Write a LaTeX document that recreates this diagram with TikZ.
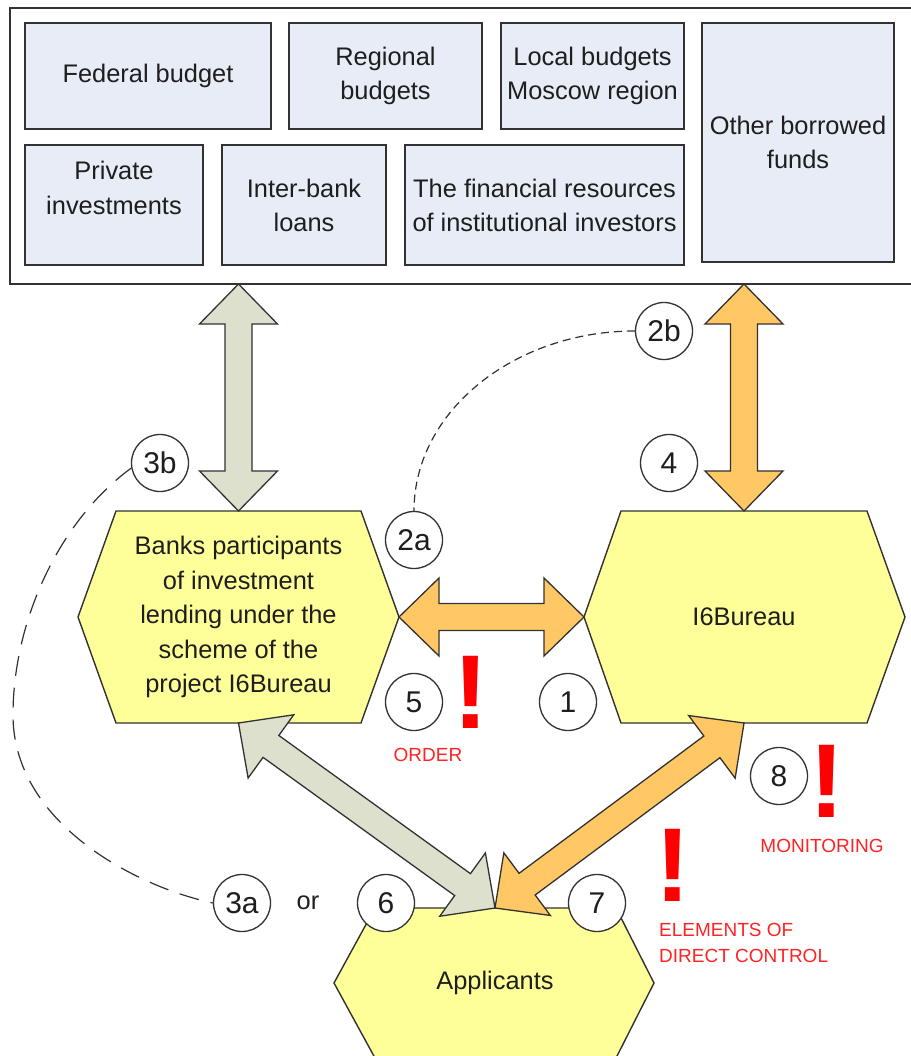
\documentclass[tikz,border=0pt]{standalone}
\usepackage{fontspec}
\setmainfont{Liberation Sans}
\usetikzlibrary{calc}
\definecolor{boxfill}{RGB}{232,236,246}
\definecolor{hexfill}{RGB}{255,255,153}
\definecolor{grayarrow}{RGB}{221,224,204}
\definecolor{orangearrow}{RGB}{255,200,100}
\definecolor{edgecol}{RGB}{50,50,50}
\definecolor{txtcol}{RGB}{30,30,30}
\definecolor{redlbl}{RGB}{255,35,35}
\newcommand\dblarrow[4]{%
  \coordinate (#4ha) at ($(#1)!40pt!(#2)$);
  \coordinate (#4hb) at ($(#2)!40pt!(#1)$);
  \draw[#3] (#1) -- ($(#4ha)!39pt!90:(#2)$) -- ($(#4ha)!13.5pt!90:(#2)$)
    -- ($(#4hb)!13.5pt!-90:(#1)$) -- ($(#4hb)!39pt!-90:(#1)$) -- (#2)
    -- ($(#4hb)!39pt!90:(#1)$) -- ($(#4hb)!13.5pt!90:(#1)$)
    -- ($(#4ha)!13.5pt!-90:(#2)$) -- ($(#4ha)!39pt!-90:(#2)$) -- cycle;}
\begin{document}
\begin{tikzpicture}[x=1pt,y=-1pt,
  srcbox/.style={draw=edgecol, line width=1.6pt, fill=boxfill, inner sep=0pt, outer sep=0pt,
    font=\fontsize{25.4}{34}\selectfont, text=txtcol, align=center},
  plaintext/.style={font=\fontsize{25.4}{34.5}\selectfont, text=txtcol, align=center, inner sep=0pt},
  hexa/.style={draw=edgecol, line width=1.4pt, fill=hexfill, line join=miter},
  numcircle/.style={circle, draw=edgecol, fill=white, line width=1.3pt, minimum size=57pt,
    inner sep=0pt, font=\fontsize{30}{30}\selectfont, text=txtcol},
  redtext/.style={text=redlbl, font=\fontsize{19}{26}\selectfont, inner sep=0pt},
  bang/.style={text=red, font=\fontsize{105}{105}\selectfont\bfseries, inner sep=0pt},
  grayarr/.style={draw=edgecol, line width=1.3pt, fill=grayarrow, line join=miter},
  orangearr/.style={draw=edgecol, line width=1.3pt, fill=orangearrow, line join=miter},
  shortdash/.style={draw=edgecol, line width=1.2pt, dash pattern=on 8pt off 5pt},
  longdash/.style={draw=edgecol, line width=1.2pt, dash pattern=on 20pt off 12pt}]
\useasboundingbox (0,0) rectangle (910,1056);
\fill[white] (0,0) rectangle (910,1056);

% sources frame
\node[draw=edgecol, line width=2pt, fill=white, minimum width=910pt, minimum height=276pt,
  anchor=north west, inner sep=0pt, outer sep=0pt] (sources) at (10,8) {};

\node[srcbox, minimum width=246pt, minimum height=106pt] (fed) at (148,76) {Federal budget};
\node[srcbox, minimum width=193pt, minimum height=106pt] (reg) at (385.5,76) {Regional\\budgets};
\node[srcbox, minimum width=183pt, minimum height=106pt] (loc) at (592.5,76) {Local budgets\\Moscow region};
\node[srcbox, minimum width=192pt, minimum height=239pt] (oth) at (798,142.5) {Other borrowed\\funds};
\node[srcbox, minimum width=178pt, minimum height=120pt] (priv) at (114,205) {};
\node[plaintext] (privtxt) at (114,188) {Private\\investments};
\node[srcbox, minimum width=164pt, minimum height=120pt] (ibl) at (304,205) {Inter-bank\\loans};
\node[srcbox, minimum width=279pt, minimum height=120pt] (fin) at (544.5,205) {The financial resources\\of institutional investors};

% hexagon anchor points
\coordinate (banksN) at (238.5,511);
\coordinate (banksS) at (238.5,723);
\coordinate (banksE) at (399,617);
\coordinate (i6N) at (744,511);
\coordinate (i6S) at (744,723);
\coordinate (i6W) at (584,617);
\coordinate (appN) at (495,908);
\coordinate (gtop) at (banksN |- sources.south);
\coordinate (otop) at (i6N |- sources.south);

% hexagons
\draw[hexa] (116,511) -- (361,511) -- (banksE) -- (361,723) -- (116,723) -- (78,617) -- cycle;
\node[plaintext] (banks) at (238.5,617) {Banks participants\\of investment\\lending under the\\scheme of the\\project I6Bureau};
\draw[hexa] (621,511) -- (867,511) -- (905,617) -- (867,723) -- (621,723) -- (i6W) -- cycle;
\node[plaintext] (i6) at (744,617) {I6Bureau};
\draw[hexa] (375,908) -- (616,908) -- (654,983) -- (616,1058) -- (375,1058) -- (334,983) -- cycle;
\node[plaintext] (app) at (495,983) {Applicants};

% double arrows
\dblarrow{gtop}{banksN}{grayarr}{av}
\dblarrow{otop}{i6N}{orangearr}{bv}
\dblarrow{banksE}{i6W}{orangearr}{ch}
\dblarrow{banksS}{appN}{grayarr}{dg}
\dblarrow{i6S}{appN}{orangearr}{eo}

% numbered circles
\node[numcircle] (c3b) at (160,463) {3b};
\node[numcircle] (c2a) at (414,540) {2a};
\node[numcircle] (c2b) at (664,331) {2b};
\node[numcircle] (c4) at (669,463) {4};
\node[numcircle] (c5) at (414,702) {5};
\node[numcircle] (c1) at (568,702) {1};
\node[numcircle] (c8) at (779,776) {8};
\node[numcircle] (c3a) at (242,903) {3a};
\node[numcircle] (c6) at (386,903) {6};
\node[numcircle] (c7) at (597,903) {7};

% dashed links
\draw[shortdash] (c2b.west) .. controls +(-120,0) and +(0,-100) .. (c2a.north);
\draw[longdash] (c3b.190) .. controls (60,520) and (13,620) .. (13,715)
  .. controls (13,820) and (130,885) .. (c3a.west);

\node[plaintext] (ortxt) at (308,903) {or};

% control marks
\node[bang] (bang1) at (471,692) {!};
\node[bang] (bang2) at (827,781) {!};
\node[bang] (bang3) at (673,865) {!};
\node[redtext] (order) at (428,755) {ORDER};
\node[redtext] (monit) at (822,846) {MONITORING};
\node[redtext, anchor=west, align=left] (direct) at (659,943) {ELEMENTS OF\\DIRECT CONTROL};
\end{tikzpicture}
\end{document}
